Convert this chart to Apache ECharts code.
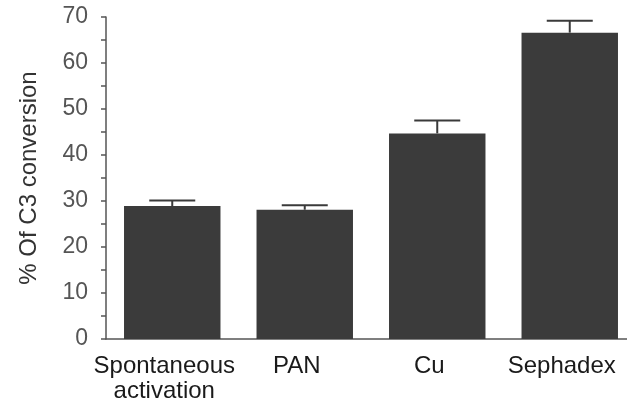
<!DOCTYPE html>
<html>
<head>
<meta charset="utf-8">
<script src="https://cdn.jsdelivr.net/npm/echarts@6/dist/echarts.min.js"></script>
<style>
  html, body { margin: 0; padding: 0; background: #fff; }
  #chart { width: 627px; height: 401px; }
</style>
</head>
<body>
<div id="chart"></div>
<script>
// data
var categories= ['Spontaneous\nactivation', 'PAN', 'Cu', 'Sephadex'];
var means= [28.9, 28.1, 44.7, 66.6];
var upper= [30.1, 29.1, 47.5, 69.2];   // top of the error bar
var yTicks= [0, 10, 20, 30, 40, 50, 60, 70];

var chart= echarts.init(document.getElementById('chart'), null, {renderer: 'canvas'});

// upper error bar only: stem + cap, positioned through the axes
function errorBar(params, api) {
  var idx= api.value(0);
  var base= api.coord([idx, api.value(1)]);
  var top= api.coord([idx, api.value(2)]);
  var half= 23;
  var style= {stroke: '#3a3a3a', lineWidth: 2};
  return {
    type: 'group',
    children: [
      {type: 'line', shape: {x1: base[0], y1: base[1], x2: top[0], y2: top[1]}, style: style},
      {type: 'line', shape: {x1: top[0]- half, y1: top[1], x2: top[0]+ half, y2: top[1]}, style: style}
    ]
  };
}

chart.setOption({
  animation: false,
  backgroundColor: '#fff',
  textStyle: {fontFamily: 'Liberation Sans, Arial, sans-serif'},
  grid: {left: 106, top: 17, width: 530, height: 322, containLabel: false, outerBoundsMode: 'none'},
  xAxis: {
    type: 'category',
    data: categories,
    axisLine: {lineStyle: {color: '#555', width: 1.5}},
    axisTick: {show: false},
    axisLabel: {color: '#1a1a1a', fontSize: 24, lineHeight: 25, margin: 15, interval: 0, padding: [0, 16, 0, 0]}
  },
  yAxis: {
    type: 'value',
    min: yTicks[0],
    max: yTicks[yTicks.length- 1],
    interval: 10,
    name: '% Of C3 conversion',
    nameLocation: 'middle',
    nameGap: 65,
    nameTextStyle: {color: '#333', fontSize: 24},
    splitLine: {show: false},
    axisLine: {show: true, lineStyle: {color: '#555', width: 1.5}},
    axisTick: {show: true, length: 5, lineStyle: {color: '#555', width: 1.5}},
    minorTick: {show: true, splitNumber: 2, length: 5, lineStyle: {color: '#555', width: 1.5}},
    axisLabel: {color: '#555', fontSize: 23, margin: 18}
  },
  series: [
    {
      type: 'bar',
      data: means,
      barWidth: '72.8%',
      itemStyle: {color: '#3b3b3b'}
    },
    {
      type: 'custom',
      renderItem: errorBar,
      encode: {x: 0, y: [1, 2]},
      data: means.map(function(m, i) { return [i, m, upper[i]]; }),
      z: 3
    }
  ]
});
</script>
</body>
</html>
